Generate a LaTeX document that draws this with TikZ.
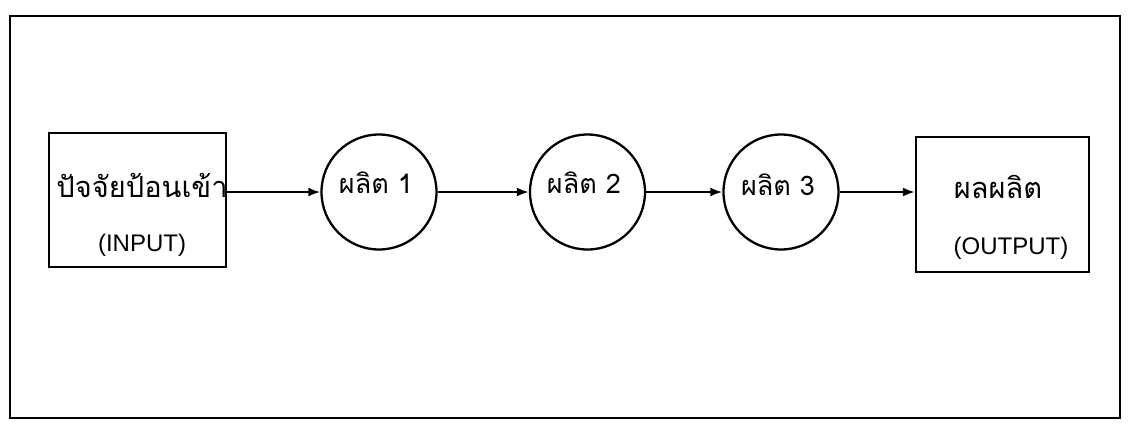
\documentclass[tikz,border=0pt]{standalone}
\usepackage{fontspec}
\setmainfont{Liberation Sans}
\newfontfamily\thaifont[Script=Thai]{Loma}
\usetikzlibrary{arrows.meta}
\begin{document}
\begin{tikzpicture}[x=1pt,y=-1pt,
  boxst/.style={draw,line width=2.3pt,inner sep=0pt,rectangle},
  circst/.style={draw,line width=2.3pt,circle,inner sep=0pt,minimum size=115pt},
  arr/.style={line width=2.2pt,-{Latex[length=12pt,width=9pt]}},
  th/.style={font=\thaifont\fontsize{29}{34}\selectfont,inner sep=0pt},
  thc/.style={font=\thaifont\fontsize{27}{32}\selectfont,inner sep=0pt},
  lat/.style={font=\fontsize{24}{28}\selectfont,inner sep=0pt}]
\useasboundingbox (0,0) rectangle (1128,423);
\fill[white] (0,0) rectangle (1128,423);
\node[boxst,minimum width=1110pt,minimum height=402pt] (frame) at (565,217) {};
\node[boxst,minimum width=177pt,minimum height=134pt] (inbox) at (137.5,200) {};
\node[boxst,minimum width=173pt,minimum height=135pt] (outbox) at (1002.5,204.5) {};
\node[circst] (c1) at (379,192) {};
\node[circst] (c2) at (587.5,192) {};
\node[circst] (c3) at (781,192) {};
\node[th] (t0) at (142,185) {ปัจจัยป้อนเข้า};
\node[lat] (t0b) at (142,245) {(INPUT)};
\node[thc] (t1) at (376,183) {ผลิต 1};
\node[thc] (t2) at (584,183) {ผลิต 2};
\node[thc] (t3) at (778,185) {ผลิต 3};
\node[th] (t4) at (998,187) {ผลผลิต};
\node[lat] (t4b) at (1011,248) {(OUTPUT)};
\draw[arr] (inbox.east |- c1) -- (c1.west);
\draw[arr] (c1.east) -- (c2.west);
\draw[arr] (c2.east) -- (c3.west);
\draw[arr] (c3.east) -- (outbox.west |- c3);
\end{tikzpicture}
\end{document}
